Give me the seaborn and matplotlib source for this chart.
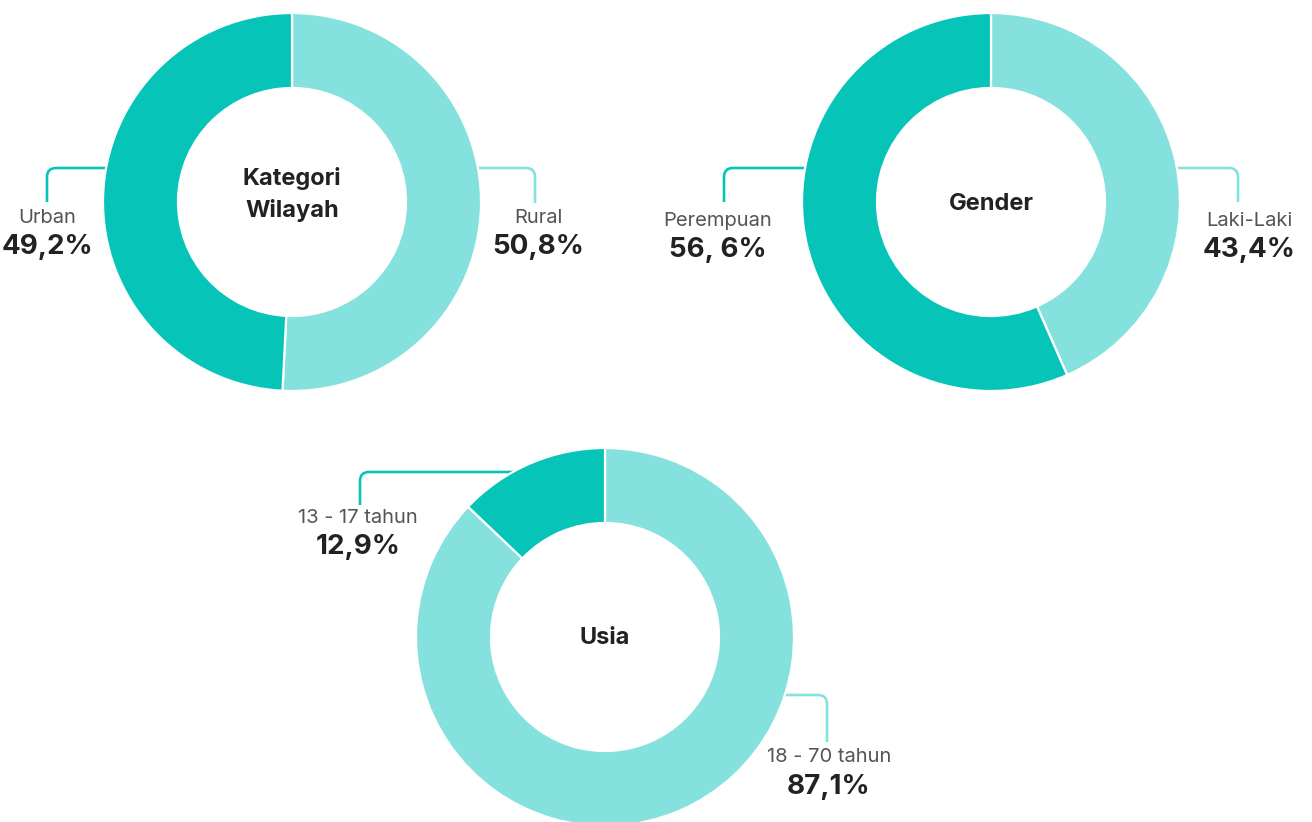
import matplotlib
matplotlib.use("Agg")
import matplotlib.pyplot as plt
import seaborn as sns
from matplotlib.path import Path
from matplotlib.patches import PathPatch

sns.set_theme(style="white")
plt.rcParams['font.family'] = ['Inter', 'DejaVu Sans']

# ---- data ----
chart_titles = ["Kategori\nWilayah", "Gender", "Usia"]
wilayah_labels = ["Rural", "Urban"]
wilayah_values = [50.8, 49.2]
wilayah_pct = ["50,8%", "49,2%"]
gender_labels = ["Laki-Laki", "Perempuan"]
gender_values = [43.4, 56.6]
gender_pct = ["43,4%", "56, 6%"]
usia_labels = ["18 - 70 tahun", "13 - 17 tahun"]
usia_values = [87.1, 12.9]
usia_pct = ["87,1%", "12,9%"]

palette = sns.color_palette(["#84E1DD", "#07C4B8"])
LIGHT, DARK = palette[0], palette[1]
LABEL_C = "#555555"
PCT_C = "#222222"

W, H = 1312, 822
fig = plt.figure(figsize=(W / 100, H / 100), dpi=100)
ax = fig.add_axes([0, 0, 1, 1])


def Y(y):
    return H - y


R_OUT, R_W = 189, 75


def donut(cx, cy, values):
    ax.pie(values, colors=[LIGHT, DARK], startangle=90, counterclock=False,
           center=(cx, Y(cy)), radius=R_OUT, frame=True,
           wedgeprops=dict(width=R_W, edgecolor="white", linewidth=1.6, zorder=3))


def leader(x_start, y_h, x_corner, y_end, color, rad=9):
    d = 1 if x_start > x_corner else -1
    verts = [(x_start, y_h), (x_corner + d * rad, y_h), (x_corner, y_h),
             (x_corner, y_h + rad), (x_corner, y_end)]
    verts = [(x, Y(y)) for x, y in verts]
    codes = [Path.MOVETO, Path.LINETO, Path.CURVE3, Path.CURVE3, Path.LINETO]
    ax.add_patch(PathPatch(Path(verts, codes), facecolor="none", edgecolor=color,
                           linewidth=1.9, zorder=1, capstyle="butt"))


def labels(x, y_lab, y_pct, lab, pct):
    ax.text(x, Y(y_lab), lab, ha="center", va="center", fontsize=14.5, color=LABEL_C)
    ax.text(x, Y(y_pct), pct, ha="center", va="center", fontsize=20,
            fontweight="bold", color=PCT_C)


# chart 1: Kategori Wilayah
donut(292, 202, wilayah_values)
ax.text(292, Y(195), chart_titles[0], ha="center", va="center", fontsize=17,
        fontweight="bold", color=PCT_C, linespacing=1.5, zorder=5)
leader(140, 168, 47, 202, DARK)
leader(440, 168, 535, 203, LIGHT)
labels(47, 218, 247, wilayah_labels[1], wilayah_pct[1])
labels(538, 218, 247, wilayah_labels[0], wilayah_pct[0])

# chart 2: Gender
donut(991, 202, gender_values)
ax.text(991, Y(204), chart_titles[1], ha="center", va="center", fontsize=17,
        fontweight="bold", color=PCT_C, zorder=5)
leader(850, 168, 724, 202, DARK)
leader(1130, 168, 1238, 202, LIGHT)
labels(718, 221, 250, gender_labels[1], gender_pct[1])
labels(1249, 221, 250, gender_labels[0], gender_pct[0])

# chart 3: Usia
donut(605, 637, usia_values)
ax.text(605, Y(638), chart_titles[2], ha="center", va="center", fontsize=17,
        fontweight="bold", color=PCT_C, zorder=5)
leader(560, 472, 360, 505, DARK)
leader(740, 695, 827, 742, LIGHT)
labels(358, 518, 547, usia_labels[1], usia_pct[1])
labels(829, 757, 787, usia_labels[0], usia_pct[0])

ax.set_xlim(0, W)
ax.set_ylim(0, H)
ax.set_aspect("auto")
ax.axis("off")

fig.savefig("out.png", dpi=100, facecolor="white")
